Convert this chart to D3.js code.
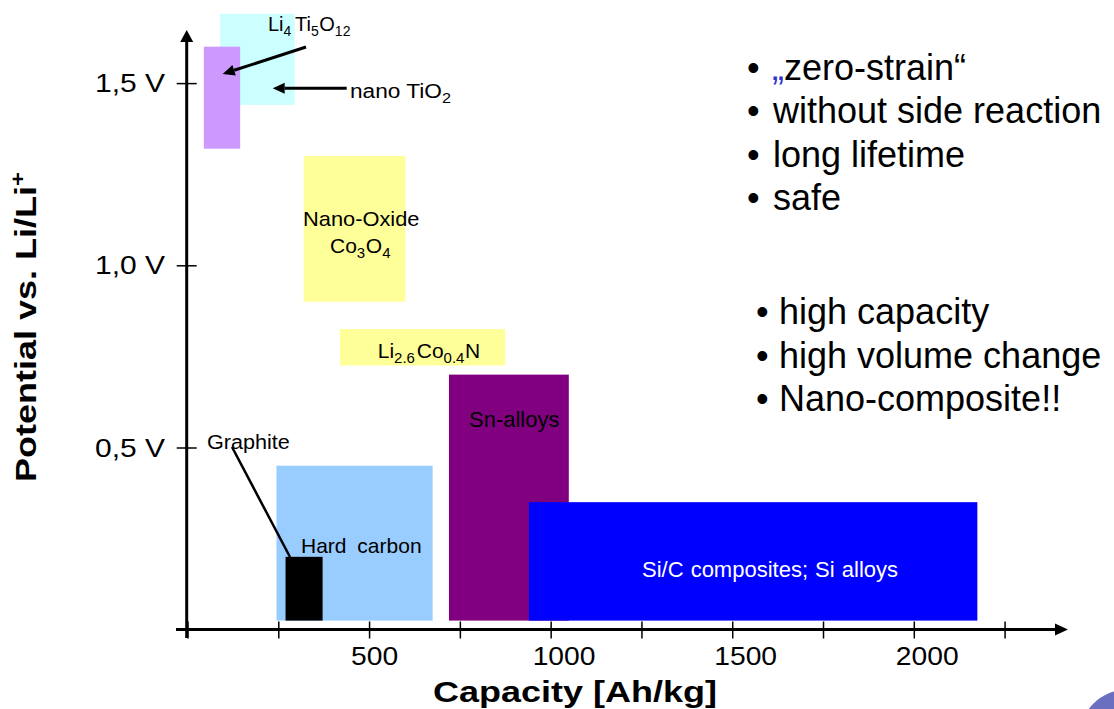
<!DOCTYPE html>
<html>
<head>
<meta charset="utf-8">
<script src="https://cdn.jsdelivr.net/npm/d3@7"></script>
<style>
  html, body { margin: 0; padding: 0; background: #fff; }
  svg { display: block; font-family: "Liberation Sans", Arial, sans-serif; }
</style>
</head>
<body>
<div id="chart"></div>
<script>
// anode materials: capacity range [Ah/kg] and potential range [V vs. Li/Li+]
var materials = ["nano TiO2", "Li4Ti5O12", "Nano-Oxide Co3O4", "Li2.6Co0.4N",
                 "Hard carbon", "Graphite", "Sn-alloys", "Si/C composites; Si alloys"];
var capMin = [90, 45, 320, 420, 245, 270, 720, 940];
var capMax = [295, 145, 600, 875, 675, 372, 1050, 2175];
var potMin = [1.44, 1.32, 0.90, 0.725, 0.025, 0.025, 0.025, 0.025];
var potMax = [1.69, 1.60, 1.30, 0.825, 0.45, 0.20, 0.70, 0.35];
var matColors = ["#ccffff", "#cc99ff", "#ffff99", "#ffff99", "#99ccff", "#000000", "#800080", "#0000ff"];

var xTicks = [0, 250, 500, 750, 1000, 1250, 1500, 1750, 2000, 2250];
var xTickLabels = [500, 1000, 1500, 2000];
var yTicks = [0.5, 1.0, 1.5];
var yTickLabels = ["0,5 V", "1,0 V", "1,5 V"];

var bullets1 = ["\u201Ezero-strain\u201C", "without side reaction", "long lifetime", "safe"];
var bullets2 = ["high capacity", "high volume change", "Nano-composite!!"];

var width = 1114, height = 709;

var svg = d3.select("#chart").append("svg")
    .attr("width", width)
    .attr("height", height);

var x = d3.scaleLinear().domain([0, 2000]).range([187.5, 913.8]);
var y = d3.scaleLinear().domain([0, 1.5]).range([629.7, 83.1]);

// decorative circle bottom right
svg.append("circle")
    .attr("cx", 1126).attr("cy", 736).attr("r", 46)
    .attr("fill", "#6a6fc0");

// rectangles
svg.append("g").selectAll("rect")
    .data(d3.range(materials.length))
    .enter().append("rect")
    .attr("x", function(i){ return x(capMin[i]); })
    .attr("width", function(i){ return x(capMax[i]) - x(capMin[i]); })
    .attr("y", function(i){ return y(potMax[i]); })
    .attr("height", function(i){ return y(potMin[i]) - y(potMax[i]); })
    .attr("fill", function(i){ return matColors[i]; });

// text helper: parts may carry sub (baseline shift), size, dx, fill
function label(px, py, parts, size, o){
    o = o || {};
    var t = svg.append("text")
        .attr("transform", "translate(" + px + "," + py + ")" +
              (o.rot ? " rotate(" + o.rot + ")" : "") +
              " scale(" + (o.sx || 1) + ",1)")
        .attr("font-size", size)
        .attr("font-weight", o.bold ? "bold" : null)
        .attr("text-anchor", o.anchor || "start")
        .attr("word-spacing", o.ws || null)
        .attr("fill", o.fill || "#000");
    var shift = 0;
    parts.forEach(function(p){
        var s = (typeof p === "string") ? {t: p} : p;
        var off = s.sub || 0;
        t.append("tspan")
            .attr("dy", off - shift)
            .attr("dx", s.dx || null)
            .attr("font-size", s.size || null)
            .attr("fill", s.fill || null)
            .text(s.t);
        shift = off;
    });
    return t;
}

function arrow(x1, y1, x2, y2, w, hl, hw){
    var a = Math.atan2(y2 - y1, x2 - x1);
    var bx = x2 - hl * Math.cos(a), by = y2 - hl * Math.sin(a);
    svg.append("line")
        .attr("x1", x1).attr("y1", y1).attr("x2", bx).attr("y2", by)
        .attr("stroke", "#000").attr("stroke-width", w);
    var nx = -Math.sin(a) * hw, ny = Math.cos(a) * hw;
    svg.append("polygon")
        .attr("points", [[x2, y2], [bx + nx, by + ny], [bx - nx, by - ny]].map(function(p){ return p.join(","); }).join(" "))
        .attr("fill", "#000");
}

// axes
var xAxis = svg.append("g")
    .attr("transform", "translate(0,629.5)")
    .call(d3.axisBottom(x).tickValues(xTicks).tickSizeOuter(0).tickFormat(""));
xAxis.select(".domain").remove();
xAxis.selectAll(".tick line").attr("y1", -8).attr("y2", 9).attr("stroke", "#000").attr("stroke-width", 1.5);

var yAxis = svg.append("g")
    .attr("transform", "translate(186.7,0)")
    .call(d3.axisLeft(y).tickValues(yTicks).tickSizeOuter(0).tickFormat(""));
yAxis.select(".domain").remove();
yAxis.selectAll(".tick line").attr("x1", -10).attr("x2", 10).attr("stroke", "#000").attr("stroke-width", 1.5);

arrow(176, 629.5, 1068, 629.5, 3, 13, 6);
arrow(186.7, 638, 186.7, 30, 3, 12, 6.5);

xTickLabels.forEach(function(v){
    label(x(v) - 18, 665, [String(v)], 25, {sx: 1.13});
});
yTicks.forEach(function(v, i){
    label(165, y(v) + 9, [yTickLabels[i]], 25, {sx: 1.2, anchor: "end"});
});

label(575, 702, ["Capacity [Ah/kg]"], 30, {bold: true, sx: 1.2, anchor: "middle"});
label(35.5, 327, ["Potential vs. Li/Li", {t: "+", sub: -11, size: 20}], 30,
      {bold: true, sx: 1.2, anchor: "middle", rot: -90});

// material labels
label(268, 31, ["Li", {t: "4", sub: 5, size: 14}, {t: "Ti", dx: 3.7},
                {t: "5", sub: 5, size: 14}, {t: "O", dx: 0.5},
                {t: "12", sub: 5, size: 14}], 20);
arrow(306, 47, 222.7, 74, 3, 12, 5.5);

label(350, 98, ["nano TiO", {t: "2", sub: 5, size: 15}], 21, {sx: 1.08});
arrow(346.7, 88.3, 272.7, 88.3, 3, 12, 5.5);

label(303, 226, ["Nano-Oxide"], 21, {sx: 1.04});
label(330, 253, ["Co", {t: "3", sub: 5, size: 15}, {t: "O", dx: 0.6},
                 {t: "4", sub: 5, size: 15}], 21);

label(377.7, 358, ["Li", {t: "2.6", sub: 5, size: 15}, {t: "Co", dx: 1.8},
                   {t: "0.4", sub: 5, size: 15}, {t: "N", dx: 0.6}], 21);

label(207, 449, ["Graphite"], 21, {sx: 1.03});
svg.append("line")
    .attr("x1", 232).attr("y1", 447).attr("x2", 290).attr("y2", 557)
    .attr("stroke", "#000").attr("stroke-width", 2.5);

label(301, 553, ["Hard carbon"], 21, {ws: 5});
label(469, 427, ["Sn-alloys"], 22);
label(770, 577, ["Si/C composites; Si alloys"], 22, {anchor: "middle", fill: "#fff", ws: 1});

// bullet texts
bullets1.forEach(function(s, i){
    var by = 79.5 + i * 43.5;
    label(747, by, ["\u2022"], 36);
    if(i === 0){
        label(772, by, [{t: "\u201E", fill: "#3333cc"}, s.slice(1)], 36);
    } else {
        label(773, by, [s], 36);
    }
});
bullets2.forEach(function(s, i){
    var by = 324 + i * 43.5;
    label(756, by, ["\u2022"], 36);
    label(779, by, [s], 36);
});
</script>
</body>
</html>
